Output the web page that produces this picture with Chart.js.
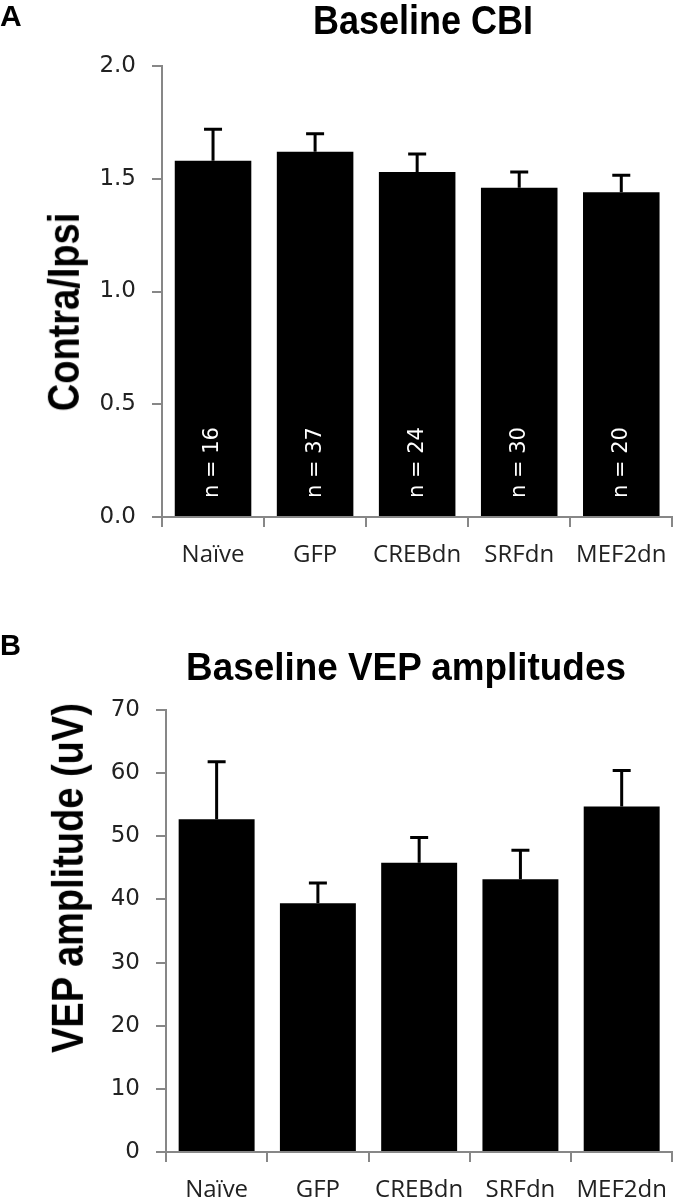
<!DOCTYPE html>
<html>
<head>
<meta charset="utf-8">
<script src="https://cdn.jsdelivr.net/npm/chart.js@4.4.1/dist/chart.umd.min.js"></script>
<style>
  body { margin: 0; background: #fff; }
  #page { position: relative; width: 681px; height: 1199px; overflow: hidden; }
  canvas { position: absolute; left: 0; }
  .lbl {
    position: absolute;
    font-family: "Liberation Sans", Arial, sans-serif;
    font-weight: bold;
    line-height: 1;
    white-space: nowrap;
    color: #000;
  }
  .ytitle { font-size: 38px; transform: translate(-50%, -50%) rotate(-90deg) scaleY(1.15); }
</style>
</head>
<body>
<div id="page">
  <canvas id="cbiChart" width="681" height="600" style="top:0"></canvas>
  <canvas id="vepChart" width="681" height="599" style="top:600px"></canvas>

  <div class="lbl" style="left:0; top:1px; font-size:30px">A</div>
  <div class="lbl" style="left:423px; top:0; font-size:40px; transform: translateX(-50%) scaleX(0.9)">Baseline CBI</div>
  <div class="lbl ytitle" style="left:64px; top:312px">Contra/Ipsi</div>

  <div class="lbl" style="left:0; top:631px; font-size:29px">B</div>
  <div class="lbl" style="left:406px; top:648px; font-size:38px; transform: translateX(-50%) scaleX(0.97)">Baseline VEP amplitudes</div>
  <div class="lbl ytitle" style="left:68px; top:878px">VEP amplitude (uV)</div>
</div>

<script>
// groups on the x axis (same for both panels)
const groups = ['Naïve', 'GFP', 'CREBdn', 'SRFdn', 'MEF2dn'];

// panel A: contra/ipsi ratio
const cbiMeans = [1.58, 1.62, 1.53, 1.46, 1.44];
const cbiSem = [0.14, 0.08, 0.08, 0.07, 0.075];
const cbiCounts = ['n = 16', 'n = 37', 'n = 24', 'n = 30', 'n = 20'];
const cbiTicks = ['0.0', '0.5', '1.0', '1.5', '2.0'];

// panel B: VEP amplitudes (uV)
const vepMeans = [52.7, 39.4, 45.8, 43.2, 54.7];
const vepSem = [9.1, 3.2, 4.0, 4.6, 5.7];
const vepTicks = ['0', '10', '20', '30', '40', '50', '60', '70'];

const axisGrey = '#878787';
const textDark = '#222';

// upper error bar with a cap, drawn on top of each bar
const errorBars = {
  id: 'errorBars',
  afterDatasetsDraw(chart, args, opts) {
    const ctx = chart.ctx;
    const yScale = chart.scales.y;
    const values = chart.data.datasets[0].data;
    ctx.save();
    ctx.strokeStyle = '#000';
    ctx.lineWidth = 3;
    chart.getDatasetMeta(0).data.forEach((bar, i) => {
      const top = yScale.getPixelForValue(values[i] + opts.errors[i]);
      ctx.beginPath();
      ctx.moveTo(bar.x, bar.y);
      ctx.lineTo(bar.x, top);
      ctx.moveTo(bar.x - 9, top);
      ctx.lineTo(bar.x + 9, top);
      ctx.stroke();
    });
    ctx.restore();
  }
};

// rotated sample sizes inside the bars
const countLabels = {
  id: 'countLabels',
  afterDatasetsDraw(chart, args, opts) {
    if (!opts.labels) return;
    const ctx = chart.ctx;
    ctx.save();
    ctx.fillStyle = '#fff';
    ctx.font = '21px "DejaVu Sans"';
    ctx.textAlign = 'left';
    ctx.textBaseline = 'middle';
    chart.getDatasetMeta(0).data.forEach((bar, i) => {
      ctx.save();
      ctx.translate(bar.x, bar.base - 18);
      ctx.rotate(-Math.PI / 2);
      ctx.fillText(opts.labels[i], 0, 0);
      ctx.restore();
    });
    ctx.restore();
  }
};

function drawPanel(canvasId, means, errors, tickLabels, step, cfg) {
  const ctx = document.getElementById(canvasId).getContext('2d');
  return new Chart(ctx, {
    type: 'bar',
    data: {
      labels: groups,
      datasets: [{
        data: means,
        backgroundColor: '#000',
        borderWidth: 0,
        barPercentage: 0.75,
        categoryPercentage: 1.0
      }]
    },
    options: {
      responsive: false,
      animation: false,
      layout: { padding: cfg.padding },
      plugins: {
        legend: { display: false },
        tooltip: { enabled: false },
        errorBars: { errors: errors },
        countLabels: { labels: cfg.counts }
      },
      scales: {
        x: {
          grid: { drawOnChartArea: false, tickLength: 10, color: axisGrey, lineWidth: 2 },
          border: { color: axisGrey, width: 2 },
          ticks: { color: textDark, padding: 14, font: { family: 'Open Sans', size: 24 } },
          afterFit: (scale) => { scale.height = cfg.xHeight; }
        },
        y: {
          min: 0,
          max: step * (tickLabels.length - 1),
          grid: { drawOnChartArea: false, tickLength: 10, color: axisGrey, lineWidth: 2 },
          border: { color: axisGrey, width: 2 },
          ticks: {
            stepSize: step,
            color: textDark,
            padding: 16,
            font: { family: 'DejaVu Sans', size: 23 },
            callback: (value, index) => tickLabels[index]
          },
          afterFit: (scale) => { scale.width = cfg.yWidth; }
        }
      }
    },
    plugins: [errorBars, countLabels]
  });
}

drawPanel('cbiChart', cbiMeans, cbiSem, cbiTicks, 0.5, {
  padding: { top: 66, left: 0, right: 5, bottom: 23 },
  xHeight: 60, yWidth: 162, counts: cbiCounts
});

drawPanel('vepChart', vepMeans, vepSem, vepTicks, 10, {
  padding: { top: 110, left: 0, right: 1, bottom: 0 },
  xHeight: 47, yWidth: 166, counts: null
});
</script>
</body>
</html>
